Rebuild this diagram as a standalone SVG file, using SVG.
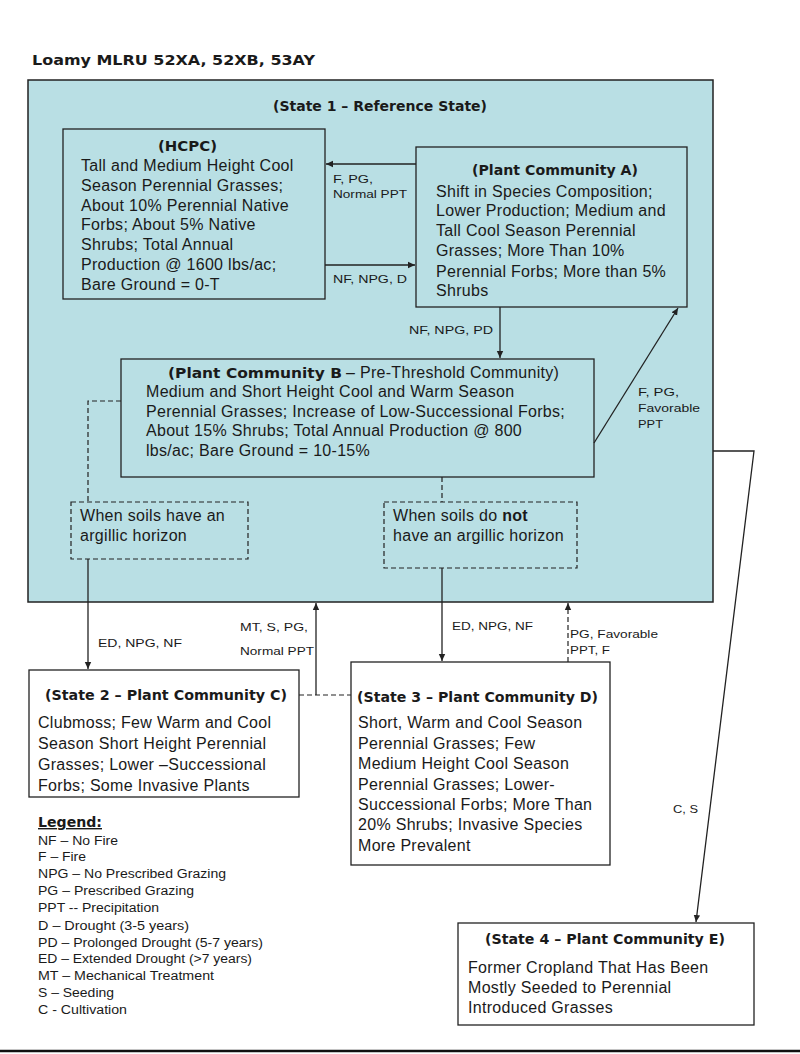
<svg xmlns="http://www.w3.org/2000/svg" width="800" height="1054" viewBox="0 0 800 1054">
<style>
.bg{fill:#ffffff}
.st1{fill:#b9dfe4;stroke:#222;stroke-width:1.5}
.nb{fill:#b9dfe4;stroke:#222;stroke-width:1.3}
.wb{fill:#ffffff;stroke:#222;stroke-width:1.3}
.db{fill:none;stroke:#222;stroke-width:1.2;stroke-dasharray:5,3}
.ln{fill:none;stroke:#222;stroke-width:1.3}
.dl{fill:none;stroke:#222;stroke-width:1.2;stroke-dasharray:5,3}
.ttl{font-family:"DejaVu Sans",Verdana,sans-serif;font-weight:bold;font-size:14px;fill:#1a1a1a}
.body{font-family:"Liberation Sans",Arial,sans-serif;font-size:16px;fill:#1a1a1a;letter-spacing:0.3px}
.lab{font-family:"Liberation Sans",Arial,sans-serif;font-size:11px;fill:#1a1a1a}
.leg{font-family:"Liberation Sans",Arial,sans-serif;font-size:12px;fill:#1a1a1a}
</style>
<defs>
<marker id="ah" markerWidth="8" markerHeight="8" refX="7" refY="4" orient="auto" markerUnits="userSpaceOnUse">
<path d="M0,0.8 L7,4 L0,7.2 Z" fill="#222"/>
</marker>
</defs>
<rect class="bg" x="0" y="0" width="800" height="1054"/>
<text class="ttl" x="32" y="65" font-size="15" textLength="283" lengthAdjust="spacingAndGlyphs">Loamy  MLRU 52XA, 52XB, 53AY</text>

<g id="state1">
<rect class="st1" x="28" y="80" width="685" height="522"/>
<text class="ttl" x="273" y="111" textLength="214" lengthAdjust="spacingAndGlyphs">(State 1 – Reference State)</text>
</g>

<g id="hcpc">
<rect class="nb" x="63" y="129" width="262" height="170"/>
<text class="ttl" x="158" y="151" textLength="59" lengthAdjust="spacingAndGlyphs">(HCPC)</text>
<text class="body" x="81" y="171">Tall and Medium Height Cool</text>
<text class="body" x="81" y="191">Season Perennial Grasses;</text>
<text class="body" x="81" y="211">About 10% Perennial Native</text>
<text class="body" x="81" y="230">Forbs; About 5% Native</text>
<text class="body" x="81" y="250">Shrubs; Total Annual</text>
<text class="body" x="81" y="270">Production @ 1600 lbs/ac;</text>
<text class="body" x="81" y="290">Bare Ground = 0-T</text>
</g>

<g id="pcA">
<rect class="nb" x="416" y="147" width="271" height="160"/>
<text class="ttl" x="472" y="175" textLength="166" lengthAdjust="spacingAndGlyphs">(Plant Community A)</text>
<text class="body" x="436" y="197">Shift in Species Composition;</text>
<text class="body" x="436" y="216">Lower Production; Medium and</text>
<text class="body" x="436" y="236">Tall Cool Season Perennial</text>
<text class="body" x="436" y="256">Grasses; More Than 10%</text>
<text class="body" x="436" y="277">Perennial Forbs; More than 5%</text>
<text class="body" x="436" y="296">Shrubs</text>
</g>

<g id="pcB">
<rect class="nb" x="121" y="359" width="473" height="118"/>
<text class="ttl" x="168" y="378" textLength="174" lengthAdjust="spacingAndGlyphs">(Plant Community B</text>
<text class="body" x="346" y="378"> – Pre-Threshold Community)</text>
<text class="body" x="146" y="397">Medium and Short Height Cool and Warm Season</text>
<text class="body" x="146" y="417">Perennial Grasses; Increase of Low-Successional Forbs;</text>
<text class="body" x="146" y="436">About 15% Shrubs; Total Annual Production @ 800</text>
<text class="body" x="146" y="456">lbs/ac; Bare Ground = 10-15%</text>
</g>

<g id="argillic">
<rect class="db" x="71" y="502" width="177" height="57"/>
<text class="body" x="80" y="521">When soils have an</text>
<text class="body" x="80" y="541">argillic horizon</text>
</g>

<g id="noargillic">
<rect class="db" x="384" y="502" width="193" height="66"/>
<text class="body" x="393" y="521">When soils do <tspan font-weight="bold">not</tspan></text>
<text class="body" x="393" y="541">have an argillic horizon</text>
</g>

<g id="state2">
<rect class="wb" x="29" y="670" width="270" height="127"/>
<text class="ttl" x="45" y="700" textLength="242" lengthAdjust="spacingAndGlyphs">(State 2 – Plant Community C)</text>
<text class="body" x="38" y="728">Clubmoss; Few Warm and Cool</text>
<text class="body" x="38" y="749">Season Short Height Perennial</text>
<text class="body" x="38" y="770">Grasses; Lower –Successional</text>
<text class="body" x="38" y="791">Forbs; Some Invasive Plants</text>
</g>

<g id="state3">
<rect class="wb" x="351" y="662" width="259" height="203"/>
<text class="ttl" x="357" y="702" textLength="241" lengthAdjust="spacingAndGlyphs">(State 3 – Plant Community D)</text>
<text class="body" x="358" y="728">Short, Warm and Cool Season</text>
<text class="body" x="358" y="749">Perennial Grasses; Few</text>
<text class="body" x="358" y="769">Medium Height Cool Season</text>
<text class="body" x="358" y="790">Perennial Grasses; Lower-</text>
<text class="body" x="358" y="810">Successional Forbs; More Than</text>
<text class="body" x="358" y="830">20% Shrubs; Invasive Species</text>
<text class="body" x="358" y="851">More Prevalent</text>
</g>

<g id="state4">
<rect class="wb" x="458" y="923" width="296" height="102"/>
<text class="ttl" x="485" y="944" textLength="240" lengthAdjust="spacingAndGlyphs">(State 4 – Plant Community E)</text>
<text class="body" x="468" y="973">Former Cropland That Has Been</text>
<text class="body" x="468" y="993">Mostly Seeded to Perennial</text>
<text class="body" x="468" y="1013">Introduced Grasses</text>
</g>

<g id="connectors">
<line class="ln" x1="416" y1="164" x2="326" y2="164" marker-end="url(#ah)"/>
<line class="ln" x1="325" y1="265" x2="415" y2="265" marker-end="url(#ah)"/>
<line class="ln" x1="500" y1="307" x2="500" y2="358" marker-end="url(#ah)"/>
<line class="ln" x1="594" y1="443" x2="678" y2="308" marker-end="url(#ah)"/>
<path class="dl" d="M121,401 H88 V502"/>
<line class="ln" x1="88" y1="559" x2="88" y2="669" marker-end="url(#ah)"/>
<line class="dl" x1="442" y1="477" x2="442" y2="502"/>
<line class="ln" x1="442" y1="568" x2="442" y2="661" marker-end="url(#ah)"/>
<line class="dl" x1="299" y1="695" x2="351" y2="695"/>
<line class="ln" x1="316" y1="695" x2="316" y2="603" marker-end="url(#ah)"/>
<line class="dl" x1="568" y1="662" x2="568" y2="603" marker-end="url(#ah)"/>
<path class="ln" d="M713,451 H754 L696,922" marker-end="url(#ah)"/>
<text class="lab" x="333" y="183" textLength="40" lengthAdjust="spacingAndGlyphs">F, PG,</text>
<text class="lab" x="333" y="198" textLength="74" lengthAdjust="spacingAndGlyphs">Normal PPT</text>
<text class="lab" x="333" y="283" textLength="74" lengthAdjust="spacingAndGlyphs">NF, NPG, D</text>
<text class="lab" x="409" y="334" textLength="84" lengthAdjust="spacingAndGlyphs">NF, NPG, PD</text>
<text class="lab" x="638" y="396" textLength="41" lengthAdjust="spacingAndGlyphs">F, PG,</text>
<text class="lab" x="638" y="412" textLength="62" lengthAdjust="spacingAndGlyphs">Favorable</text>
<text class="lab" x="638" y="428" textLength="25" lengthAdjust="spacingAndGlyphs">PPT</text>
<text class="lab" x="98" y="647" textLength="84" lengthAdjust="spacingAndGlyphs">ED, NPG, NF</text>
<text class="lab" x="240" y="631" textLength="68" lengthAdjust="spacingAndGlyphs">MT, S, PG,</text>
<text class="lab" x="240" y="655" textLength="74" lengthAdjust="spacingAndGlyphs">Normal PPT</text>
<text class="lab" x="452" y="630" textLength="81" lengthAdjust="spacingAndGlyphs">ED, NPG, NF</text>
<text class="lab" x="570" y="638" textLength="88" lengthAdjust="spacingAndGlyphs">PG, Favorable</text>
<text class="lab" x="570" y="654" textLength="40" lengthAdjust="spacingAndGlyphs">PPT, F</text>
<text class="lab" x="673" y="813" textLength="25" lengthAdjust="spacingAndGlyphs">C, S</text>
</g>

<g id="legend">
<text class="ttl" x="38" y="827" textLength="64" lengthAdjust="spacingAndGlyphs" text-decoration="underline">Legend:</text>
<text class="leg" x="38" y="845" textLength="80" lengthAdjust="spacingAndGlyphs">NF – No Fire</text>
<text class="leg" x="38" y="861" textLength="48" lengthAdjust="spacingAndGlyphs">F – Fire</text>
<text class="leg" x="38" y="878" textLength="188" lengthAdjust="spacingAndGlyphs">NPG – No Prescribed Grazing</text>
<text class="leg" x="38" y="895" textLength="156" lengthAdjust="spacingAndGlyphs">PG – Prescribed Grazing</text>
<text class="leg" x="38" y="912" textLength="121" lengthAdjust="spacingAndGlyphs">PPT -- Precipitation</text>
<text class="leg" x="38" y="930" textLength="151" lengthAdjust="spacingAndGlyphs">D – Drought (3-5 years)</text>
<text class="leg" x="38" y="947" textLength="225" lengthAdjust="spacingAndGlyphs">PD – Prolonged Drought (5-7 years)</text>
<text class="leg" x="38" y="963" textLength="214" lengthAdjust="spacingAndGlyphs">ED – Extended Drought (&gt;7 years)</text>
<text class="leg" x="38" y="980" textLength="176" lengthAdjust="spacingAndGlyphs">MT – Mechanical Treatment</text>
<text class="leg" x="38" y="997" textLength="76" lengthAdjust="spacingAndGlyphs">S – Seeding</text>
<text class="leg" x="38" y="1014" textLength="89" lengthAdjust="spacingAndGlyphs">C - Cultivation</text>
</g>

<line x1="0" y1="1051" x2="800" y2="1051" stroke="#111" stroke-width="2.5"/>
</svg>
